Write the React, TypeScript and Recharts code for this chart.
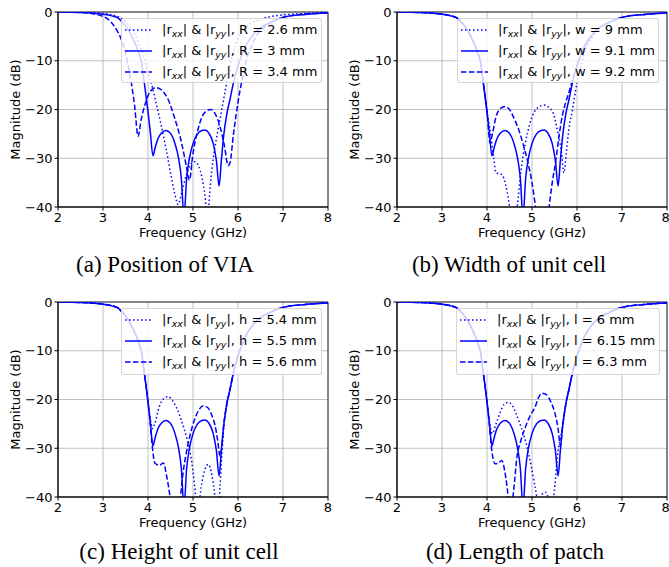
import React from "react";
import { LineChart, Line, XAxis, YAxis, CartesianGrid, ReferenceArea } from "recharts";

// axis ticks
const xTicks = [2, 3, 4, 5, 6, 7, 8];
const yTicks = [-40, -30, -20, -10, 0];

// shared low / high frequency flanks (GHz, dB)
const headF = [2, 2.5, 2.8, 3, 3.2, 3.33, 3.45, 3.55, 3.65, 3.73, 3.8, 3.86, 3.91, 3.96, 4];
const headM = [0, -0.1, -0.25, -0.45, -0.8, -1.2, -2.3, -3.5, -5.2, -6.8, -8.5, -10.5, -14, -17.5, -20.5];
const tailF = [6, 6.1, 6.2, 6.35, 6.5, 6.7, 6.9, 7, 7.5, 8];
const tailM = [-11, -8.5, -6.5, -4.5, -3.2, -2.2, -1.4, -1.1, -0.5, -0.2];

// nominal design (solid line in every panel)
const nomF = [4.05, 4.11, 4.16, 4.22, 4.3, 4.4, 4.5, 4.6, 4.68, 4.74, 4.8, 4.86, 4.92, 5, 5.1, 5.2, 5.27, 5.35, 5.45, 5.52, 5.58, 5.63, 5.68, 5.75, 5.82, 5.9];
const nomM = [-24.5, -29.5, -27.8, -26, -24.8, -24.3, -24.9, -27, -30, -34, -42, -34, -30, -27, -25, -24.3, -24.2, -24.8, -27, -30.5, -35.7, -30.5, -25.5, -21, -18, -14.5];

// (a) position of VIA
const aDotF = [2, 2.5, 3, 3.2, 3.35, 3.5, 3.6, 3.7, 3.8, 3.9, 4, 4.1, 4.2, 4.3, 4.4, 4.5, 4.6, 4.67, 4.75, 4.85, 4.95, 5.04, 5.12, 5.2, 5.27, 5.32, 5.38, 5.45, 5.52, 5.6, 5.7, 5.8, 5.9, 6, 6.2, 6.5, 7, 7.5, 8];
const aDotM = [0, -0.05, -0.3, -0.6, -1, -2, -3, -4.5, -6.5, -9, -12.5, -15.5, -19.5, -23.5, -28, -33, -37.5, -39.5, -37, -33.5, -31.2, -30.7, -31.5, -34, -38, -43, -36, -30, -26, -22, -17, -12, -8, -5.5, -3, -1.5, -0.6, -0.3, -0.1];
const aDashF = [2, 2.5, 2.8, 3, 3.1, 3.2, 3.3, 3.4, 3.5, 3.6, 3.7, 3.78, 3.85, 3.95, 4.05, 4.18, 4.3, 4.45, 4.6, 4.75, 4.85, 4.92, 5, 5.1, 5.2, 5.3, 5.4, 5.5, 5.6, 5.7, 5.78, 5.82, 5.9, 6, 6.1, 6.2, 6.3, 6.4, 6.6, 6.8, 7, 7.5, 8];
const aDashM = [0, -0.1, -0.4, -0.9, -1.4, -2.3, -3.6, -5.5, -8.5, -13, -19, -25.5, -22, -18.5, -16.3, -15.5, -16, -18, -22, -27, -31.5, -34.5, -29, -24.5, -21.5, -20.3, -20, -21, -23.5, -27.5, -31.5, -31, -25, -18.5, -13.5, -9.5, -7, -5, -3, -1.8, -1.1, -0.4, -0.2];

// (b) width of unit cell
const bDotF = [4.08, 4.15, 4.2, 4.3, 4.37, 4.45, 4.52, 4.6, 4.67, 4.75, 4.85, 4.95, 5.05, 5.15, 5.27, 5.38, 5.48, 5.57, 5.65, 5.71, 5.76, 5.82, 5.9, 6, 6.1, 6.2, 6.35];
const bDotM = [-25, -30, -33, -33.2, -34, -37, -41, -44, -40, -33, -27, -23, -20.5, -19.5, -19.1, -19.6, -21, -24.5, -28.5, -33, -29, -24, -20, -14.5, -10.5, -7.5, -5];
const bDashF = [4.07, 4.12, 4.2, 4.3, 4.4, 4.5, 4.6, 4.7, 4.8, 4.9, 5, 5.08, 5.2, 5.3, 5.38, 5.45, 5.53, 5.6, 5.68, 5.75, 5.82, 5.9];
const bDashM = [-26.9, -25, -21.5, -19.8, -19.4, -20, -21.8, -24, -27, -30.5, -35, -40, -46, -46, -40, -35, -30.4, -25.5, -21, -18.5, -16.5, -14];

// (c) height of unit cell
const cDotF = [4.05, 4.1, 4.15, 4.25, 4.35, 4.45, 4.55, 4.65, 4.75, 4.85, 4.95, 5.04, 5.1, 5.18, 5.26, 5.34, 5.42, 5.49, 5.55, 5.6, 5.65, 5.7, 5.75, 5.82, 5.9];
const cDotM = [-24, -26, -25, -21.5, -19.8, -19.4, -20.3, -22, -24.5, -27.5, -31.5, -38, -44, -38, -34.5, -33.3, -35.5, -40, -45, -38, -30, -24, -21, -18, -14.5];
const cDashF = [4.05, 4.1, 4.15, 4.19, 4.26, 4.34, 4.42, 4.49, 4.55, 4.62, 4.72, 4.78, 4.85, 4.93, 5.04, 5.12, 5.23, 5.33, 5.42, 5.49, 5.55, 5.6, 5.63, 5.68, 5.75, 5.82, 5.9];
const cDashM = [-25, -30, -33, -33.3, -33.5, -33, -36, -40, -45, -45, -40, -35, -31, -27.5, -24, -22.3, -21.3, -21.7, -23.3, -25.3, -28.5, -31.6, -30.5, -25.5, -21, -18, -14.5];

// (d) length of patch
const dDotF = [4.06, 4.12, 4.2, 4.3, 4.38, 4.47, 4.56, 4.65, 4.75, 4.84, 4.92, 4.99, 5.07, 5.14, 5.22, 5.3, 5.38, 5.45, 5.51, 5.55, 5.58, 5.63, 5.68, 5.75, 5.82, 5.9];
const dDotM = [-25, -27, -25, -22.5, -21, -20.6, -21.2, -23, -25.5, -28, -31, -34, -38, -41, -39.5, -39, -40.5, -41, -37.6, -33, -30.5, -28, -25.5, -21, -18, -14.5];
const dDashF = [4.05, 4.1, 4.18, 4.26, 4.33, 4.4, 4.47, 4.51, 4.55, 4.6, 4.66, 4.75, 4.84, 4.95, 5.07, 5.15, 5.22, 5.32, 5.42, 5.5, 5.58, 5.63, 5.68, 5.75, 5.82, 5.9];
const dDashM = [-25, -30, -33.2, -33, -32.5, -35, -40, -44, -42, -38, -32.2, -28.5, -26, -23.5, -21.5, -19.5, -18.7, -19, -20.5, -22.5, -26, -29.5, -25.5, -21, -18, -14.5];

const aLabels = ["R = 2.6 mm", "R = 3 mm", "R = 3.4 mm"];
const bLabels = ["w = 9 mm", "w = 9.1 mm", "w = 9.2 mm"];
const cLabels = ["h = 5.4 mm", "h = 5.5 mm", "h = 5.6 mm"];
const dLabels = ["l = 6 mm", "l = 6.15 mm", "l = 6.3 mm"];

const toPts = (f: number[], m: number[]) => f.map((x, i) => ({ f: x, m: m[i] }));
const withFlanks = (f: number[], m: number[], tailFrom = 0) =>
  toPts([...headF, ...f, ...tailF.slice(tailFrom)], [...headM, ...m, ...tailM.slice(tailFrom)]);

const nominal = withFlanks(nomF, nomM);

const BLUE = "#0000ff";
const DASHES = ["1.5 2.5", undefined, "5.5 2.4"];
const FONT = "'DejaVu Sans', sans-serif";
const FS = 13;

const panels = [
  { id: "a", left: 0, top: 0, width: 335, right: 7, legend: { x: 121, y: 18, w: 201, h: 65 }, labels: aLabels,
    series: [toPts(aDotF, aDotM), nominal, toPts(aDashF, aDashM)],
    caption: "(a) Position of VIA", capX: 165, capY: 252 },
  { id: "b", left: 339, top: 0, width: 330, right: 2, legend: { x: 118, y: 18, w: 202, h: 65 }, labels: bLabels,
    series: [withFlanks(bDotF, bDotM, 4), nominal, withFlanks(bDashF, bDashM)],
    caption: "(b) Width of unit cell", capX: 509, capY: 252 },
  { id: "c", left: 0, top: 290, width: 335, right: 7, legend: { x: 121, y: 18, w: 201, h: 67 }, labels: cLabels,
    series: [withFlanks(cDotF, cDotM), nominal, withFlanks(cDashF, cDashM)],
    caption: "(c) Height of unit cell", capX: 179, capY: 539 },
  { id: "d", left: 339, top: 290, width: 330, right: 2, legend: { x: 117, y: 18, w: 204, h: 67 }, labels: dLabels,
    series: [withFlanks(dDotF, dDotM), nominal, withFlanks(dDashF, dDashM)],
    caption: "(d) Length of patch", capX: 515, capY: 539 },
];

const fmt = (v: number) => (v < 0 ? `\u2212${Math.abs(v)}` : `${v}`);

const subStyle = { fontStyle: "italic", fontSize: "72%", position: "relative", top: 3 } as const;

const LegendBox = ({ box, labels }: any) => (
  <div
    style={{
      position: "absolute",
      left: box.x,
      top: box.y,
      width: box.w,
      height: box.h,
      boxSizing: "border-box",
      background: "rgba(255,255,255,0.8)",
      border: "1px solid rgba(204,204,204,0.8)",
      borderRadius: 3,
      fontFamily: FONT,
      fontSize: FS,
      color: "#000",
    }}
  >
    {labels.map((lab: string, i: number) => (
      <div
        key={lab}
        style={{ position: "absolute", left: 3, top: 2 + i * 21, height: 18, display: "flex", alignItems: "center", whiteSpace: "nowrap" }}
      >
        <svg width={27} height={4} style={{ display: "block" }}>
          <line x1={0} y1={2} x2={27} y2={2} stroke={BLUE} strokeWidth={1.5} strokeDasharray={DASHES[i]} />
        </svg>
        <span style={{ marginLeft: 10, lineHeight: "18px" }}>
          |r<span style={subStyle}>xx</span>| &amp; |r<span style={subStyle}>yy</span>|, {lab}
        </span>
      </div>
    ))}
  </div>
);

const Panel = ({ p }: any) => (
  <div style={{ position: "absolute", left: p.left, top: p.top, width: p.width, height: 250 }}>
    <LineChart width={p.width} height={250} margin={{ top: 12, right: p.right, bottom: 0, left: 0 }}>
      <CartesianGrid stroke="#b0b0b0" strokeWidth={0.8} />
      <XAxis
        type="number"
        dataKey="f"
        domain={[2, 8]}
        ticks={xTicks}
        height={43}
        tickSize={3.5}
        tickMargin={2}
        axisLine={{ stroke: "#000" }}
        tickLine={{ stroke: "#000" }}
        tick={{ fill: "#000", fontSize: FS, fontFamily: FONT }}
        label={{ value: "Frequency (GHz)", position: "insideBottom", offset: 13, fill: "#000", fontSize: FS, fontFamily: FONT }}
      />
      <YAxis
        type="number"
        domain={[-40, 0]}
        allowDataOverflow
        ticks={yTicks}
        width={58}
        tickSize={3.5}
        tickMargin={2}
        tickFormatter={fmt}
        axisLine={{ stroke: "#000" }}
        tickLine={{ stroke: "#000" }}
        tick={{ fill: "#000", fontSize: FS, fontFamily: FONT }}
        label={{
          value: "Magnitude (dB)",
          angle: -90,
          position: "insideLeft",
          offset: 15,
          fill: "#000",
          fontSize: FS,
          fontFamily: FONT,
          style: { textAnchor: "middle" },
        }}
      />
      {p.series.map((d: any[], i: number) => (
        <Line
          key={i}
          data={d}
          dataKey="m"
          type="monotone"
          stroke={BLUE}
          strokeWidth={1.5}
          strokeDasharray={DASHES[i]}
          dot={false}
          activeDot={false}
          isAnimationActive={false}
        />
      ))}
      <ReferenceArea x1={2} x2={8} y1={-40} y2={0} fill="none" stroke="#000" strokeWidth={0.8} />
    </LineChart>
    <LegendBox box={p.legend} labels={p.labels} />
  </div>
);

export default function App() {
  return (
    <div style={{ position: "absolute", left: 0, top: 0, width: 669, height: 567, background: "#fff", overflow: "hidden" }}>
      {panels.map((p) => (
        <Panel key={p.id} p={p} />
      ))}
      {panels.map((p) => (
        <div
          key={p.id + "cap"}
          style={{
            position: "absolute",
            left: p.capX - 150,
            width: 300,
            top: p.capY,
            textAlign: "center",
            fontFamily: "'Liberation Serif', serif",
            fontSize: 23,
            lineHeight: "26px",
            color: "#000",
            whiteSpace: "nowrap",
          }}
        >
          {p.caption}
        </div>
      ))}
    </div>
  );
}
